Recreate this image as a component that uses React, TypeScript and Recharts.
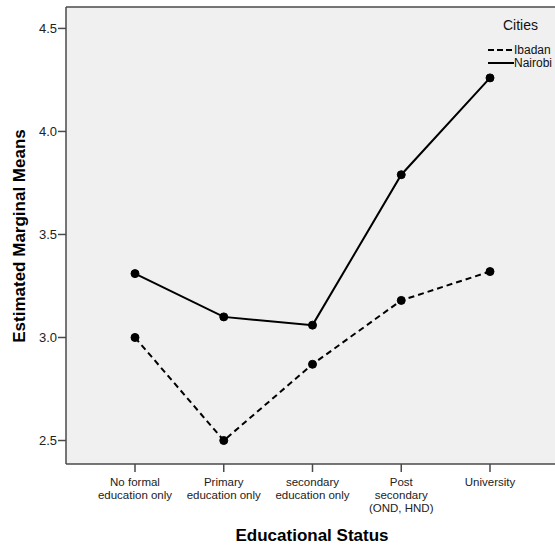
import { LineChart, Line, XAxis, YAxis, CartesianGrid, Label, ReferenceLine } from 'recharts';

// Estimated marginal means by educational status, one line per city
const categories = [
  'No formal education only',
  'Primary education only',
  'secondary education only',
  'Post secondary (OND, HND)',
  'University',
];
const categoryLines = [
  ['No formal', 'education only'],
  ['Primary', 'education only'],
  ['secondary', 'education only'],
  ['Post', 'secondary', '(OND, HND)'],
  ['University'],
];
const ibadan = [3.0, 2.5, 2.87, 3.18, 3.32];
const nairobi = [3.31, 3.1, 3.06, 3.79, 4.26];
const yTicks = [2.5, 3.0, 3.5, 4.0, 4.5];
const yDomain: [number, number] = [2.386, 4.604];

const FONT = '"Liberation Sans", Arial, sans-serif';
const AXIS = '#4a4a4a';

const data = categories.map((category, i) => ({
  category,
  Ibadan: ibadan[i],
  Nairobi: nairobi[i],
}));

function CategoryTick({ x, y, payload }: any) {
  const idx = categories.indexOf(payload.value);
  const lines = categoryLines[idx] || [payload.value];
  return (
    <text x={x} y={y + 12} textAnchor="middle" fontFamily={FONT} fontSize={11.5} fill="#222">
      {lines.map((line, i) => (
        <tspan key={line} x={x} dy={i === 0 ? 0 : 13.2}>
          {line}
        </tspan>
      ))}
    </text>
  );
}

function CitiesLegend() {
  return (
    <div style={{ position: 'absolute', left: 487, top: 17, fontFamily: FONT, color: '#111' }}>
      <div style={{ fontSize: 14, lineHeight: '16px', marginLeft: 16, marginBottom: 10 }}>Cities</div>
      {[
        { name: 'Ibadan', dash: '6 3' },
        { name: 'Nairobi', dash: undefined },
      ].map((s) => (
        <div key={s.name} style={{ display: 'flex', alignItems: 'center', height: 13, fontSize: 12 }}>
          <svg width={27} height={6}>
            <line x1={1} y1={3} x2={27} y2={3} stroke="#000" strokeWidth={2} strokeDasharray={s.dash} />
          </svg>
          <span>{s.name}</span>
        </div>
      ))}
    </div>
  );
}

export default function App() {
  return (
    <div style={{ position: 'absolute', left: 0, top: 0, width: 555, height: 546, overflow: 'hidden', background: '#fff' }}>
      <LineChart width={559} height={546} data={data} margin={{ top: 7, right: 0, bottom: 0, left: 0 }}>
        <CartesianGrid horizontal vertical stroke="none" fill="#f0f0f0" />
        <XAxis
          dataKey="category"
          height={82}
          padding={{ left: 69, right: 69 }}
          tick={<CategoryTick />}
          tickSize={8}
          tickLine={{ stroke: AXIS, strokeWidth: 1.5 }}
          axisLine={{ stroke: AXIS, strokeWidth: 1.5 }}
          interval={0}
        >
          <Label
            content={() => (
              <text x={312} y={541} textAnchor="middle" fontFamily={FONT} fontSize={17} fontWeight="bold" fill="#000">
                Educational Status
              </text>
            )}
          />
        </XAxis>
        <YAxis
          width={66}
          domain={yDomain}
          ticks={yTicks}
          allowDataOverflow
          tickFormatter={(v: number) => v.toFixed(1)}
          tickSize={8}
          tickMargin={1}
          tick={{ fontFamily: FONT, fontSize: 13, fill: '#222' }}
          tickLine={{ stroke: AXIS, strokeWidth: 1.5 }}
          axisLine={{ stroke: AXIS, strokeWidth: 1.5 }}
        >
          <Label
            content={() => (
              <text
                x={25}
                y={236}
                transform="rotate(-90 25 236)"
                textAnchor="middle"
                fontFamily={FONT}
                fontSize={17}
                fontWeight="bold"
                fill="#000"
              >
                Estimated Marginal Means
              </text>
            )}
          />
        </YAxis>
        <ReferenceLine y={yDomain[1]} stroke={AXIS} strokeWidth={1.5} />
        <Line
          dataKey="Ibadan"
          stroke="#000"
          strokeWidth={2}
          strokeDasharray="6 4"
          dot={{ r: 4, fill: '#000', stroke: '#000', strokeWidth: 1, strokeDasharray: '' }}
          activeDot={false}
          isAnimationActive={false}
        />
        <Line
          dataKey="Nairobi"
          stroke="#000"
          strokeWidth={2}
          dot={{ r: 4, fill: '#000', stroke: '#000', strokeWidth: 1 }}
          activeDot={false}
          isAnimationActive={false}
        />
      </LineChart>
      <CitiesLegend />
    </div>
  );
}
